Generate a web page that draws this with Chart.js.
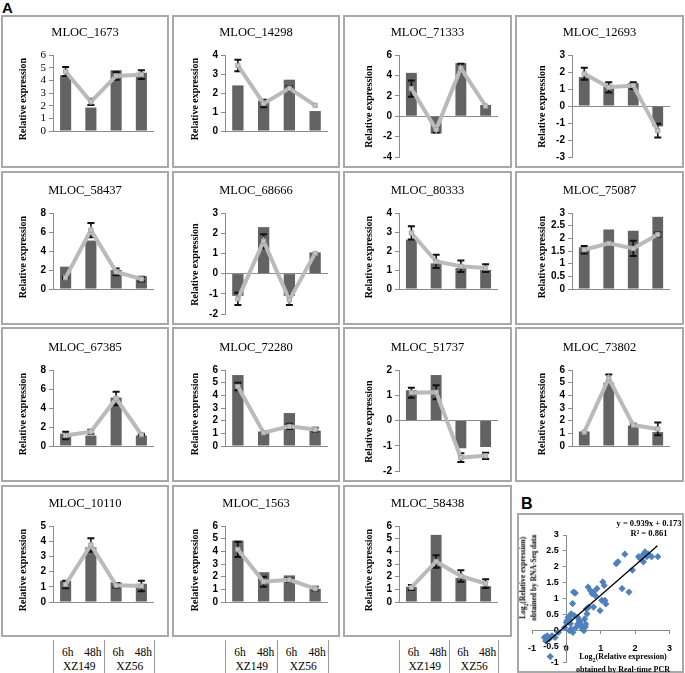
<!DOCTYPE html>
<html><head><meta charset="utf-8">
<script src="https://cdn.jsdelivr.net/npm/chart.js@4.4.0/dist/chart.umd.min.js"></script>
<style>
html,body{margin:0;padding:0;background:#fff;}
body{width:685px;height:673px;position:relative;overflow:hidden;font-family:"Liberation Serif",serif;}
.panel{position:absolute;border:2px solid #a8a8a8;box-sizing:border-box;}
canvas{position:absolute;}
.t{position:absolute;white-space:nowrap;color:#000;}
.sep{position:absolute;width:1px;background:#9a9a9a;}
</style></head><body>
<script>
// ---------- data ----------
const categories = ['XZ149 6h', 'XZ149 48h', 'XZ56 6h', 'XZ56 48h'];
const timeLabels = ['6h', '48h', '6h', '48h'];
const lineLabels = ['XZ149', 'XZ56'];
const genes = ['MLOC_1673','MLOC_14298','MLOC_71333','MLOC_12693','MLOC_58437','MLOC_68666','MLOC_80333','MLOC_75087','MLOC_67385','MLOC_72280','MLOC_51737','MLOC_73802','MLOC_10110','MLOC_1563','MLOC_58438'];
const yTitle = 'Relative expression';

// bar = RNA-Seq, line = real-time PCR, err = PCR error; axis = [min, max, step]
const bar_1673 = [4.4, 1.85, 4.8, 4.6],   line_1673 = [4.7, 2.3, 4.35, 4.45],  err_1673 = [0.35, 0.25, 0.3, 0.35],  axis_1673 = [0, 6, 1];
const bar_14298 = [2.4, 1.6, 2.7, 1.05],  line_14298 = [3.45, 1.45, 2.25, 1.35], err_14298 = [0.3, 0.2, 0.1, 0],   axis_14298 = [0, 4, 1];
const bar_71333 = [4.25, -1.7, 5.2, 1.1], line_71333 = [2.7, -1.3, 4.7, 1.0],  err_71333 = [0.8, 0.3, 0.45, 0],   axis_71333 = [-4, 6, 2];
const bar_12693 = [1.7, 1.25, 1.35, -1.2], line_12693 = [1.9, 1.1, 1.2, -1.45], err_12693 = [0.35, 0.3, 0.2, 0.4], axis_12693 = [-3, 3, 1];
const bar_58437 = [2.35, 5.1, 2.0, 1.35], line_58437 = [1.2, 6.2, 1.8, 1.05],  err_58437 = [0.1, 0.75, 0.35, 0.25], axis_58437 = [0, 8, 2];
const bar_68666 = [-1.1, 2.3, -1.1, 1.05], line_68666 = [-1.25, 1.6, -1.3, 1.0], err_68666 = [0.3, 0.35, 0.25, 0], axis_68666 = [-2, 3, 1];
const bar_80333 = [2.6, 1.35, 1.1, 1.0],  line_80333 = [2.95, 1.45, 1.2, 1.1],  err_80333 = [0.35, 0.35, 0.3, 0.2], axis_80333 = [0, 4, 1];
const bar_75087 = [1.65, 2.35, 2.3, 2.85], line_75087 = [1.55, 1.8, 1.6, 2.15], err_75087 = [0.15, 0, 0.3, 0.08], axis_75087 = [0, 3, 0.5];
const bar_67385 = [1.3, 1.1, 5.1, 1.1],   line_67385 = [1.1, 1.5, 5.0, 1.2],   err_67385 = [0.4, 0.2, 0.7, 0.1],  axis_67385 = [0, 8, 2];
const bar_72280 = [5.6, 1.15, 2.6, 1.2],  line_72280 = [4.7, 1.05, 1.55, 1.3],  err_72280 = [0.3, 0, 0.2, 0.15],   axis_72280 = [0, 6, 1];
const bar_51737 = [1.2, 1.8, -1.1, -1.05], line_51737 = [1.1, 1.12, -1.47, -1.4], err_51737 = [0.2, 0.28, 0.17, 0.12], axis_51737 = [-2, 2, 1];
const bar_73802 = [1.15, 5.0, 1.6, 1.1],  line_73802 = [1.1, 5.35, 1.65, 1.35], err_73802 = [0, 0.3, 0.1, 0.5],   axis_73802 = [0, 6, 1];
const bar_10110 = [1.4, 3.6, 1.3, 1.2],   line_10110 = [1.15, 3.75, 1.1, 1.05], err_10110 = [0.25, 0.45, 0.15, 0.35], axis_10110 = [0, 5, 1];
const bar_1563 = [4.85, 2.35, 2.1, 1.05], line_1563 = [4.15, 1.6, 1.75, 1.05],  err_1563 = [0.6, 0.4, 0.15, 0.15],  axis_1563 = [0, 6, 1];
const bar_58438 = [1.2, 5.3, 1.9, 1.25],  line_58438 = [1.15, 3.2, 2.05, 1.45], err_58438 = [0.2, 0.5, 0.45, 0.35], axis_58438 = [0, 6, 1];

// panel B scatter
const pcrX = [-0.64,-0.56,-0.5,-0.42,-0.6,-0.33,-0.47,-0.23,-0.05,0,0.05,0.09,0.14,0.18,0.26,0.21,0.23,0.33,0.37,0.33,0.42,0.47,0.14,0.09,0.19,0.28,0.51,0.56,0.53,0.6,0.58,0.65,0.63,0.7,0.75,0.79,0.84,0.89,0.79,0.98,1.03,1.12,1.15,1.06,1.1,1.45,1.5,1.7,1.62,1.82,1.92,2.1,2.15,2.24,2.29,2.34,2.24,2.38,2.48,2.66,2.29,0.02,0.12,0.4,0.55];
const seqY = [-0.21,-0.16,-0.26,-0.16,-0.32,-0.21,-0.81,-0.05,0.1,0.26,0.42,0.37,0.53,0.85,1.18,1.21,0.47,0.42,0.32,0.21,0.16,0.05,0.05,0.0,-0.05,0.1,0.0,0.21,0.37,0.53,0.68,0.74,1.37,1.26,1.16,1.21,1.1,1.32,0.74,0.63,0.95,0.95,0.84,1.53,1.42,2.1,2.16,2.4,1.32,1.21,1.9,2.32,2.26,2.4,2.47,2.32,2.16,2.4,2.32,2.32,2.37,0.32,0.22,0.28,0.12];
const trendX = [-0.6, 2.65];
const trendY = [-0.39, 2.66];
const equationText = 'y = 0.939x + 0.173';
const r2Text = 'R² = 0.861';

const panels = genes.map(g => {
  const k = g.split('_')[1];
  return {gene: g, bar: eval('bar_' + k), line: eval('line_' + k), err: eval('err_' + k), axis: eval('axis_' + k)};
});

// ---------- layout ----------
const COL_L = [1, 172, 343, 515], COL_W = [168, 168, 169, 169];
const ROW_T = [15, 171, 327, 485], ROW_H = [153, 154, 155, 152];
const AXIS_X = [53, 225, 399, 572], PLOT_R = [154, 328, 498, 670];
const PLOT_T = [55, 213, 370, 526];
const YW = 28;
const GRAY = '#8c8c8c';
const fmt = v => String(+(+v).toFixed(2));

const errPlugin = {
  id: 'errbars',
  afterDatasetDraw(chart, args, opts) {
    if (!opts.err || args.index !== 1) return;
    const meta = chart.getDatasetMeta(0), ys = chart.scales.y, ctx = chart.ctx;
    const vals = chart.data.datasets[0].data;
    ctx.save(); ctx.strokeStyle = '#111';
    meta.data.forEach((pt, i) => {
      const e = opts.err[i]; if (!e) return;
      const y1 = ys.getPixelForValue(vals[i] + e), y2 = ys.getPixelForValue(vals[i] - e), x = pt.x;
      ctx.lineWidth = 1.6; ctx.beginPath(); ctx.moveTo(x, y1); ctx.lineTo(x, y2); ctx.stroke();
      ctx.lineWidth = 2; ctx.beginPath();
      ctx.moveTo(x - 3.5, y1); ctx.lineTo(x + 3.5, y1); ctx.moveTo(x - 3.5, y2); ctx.lineTo(x + 3.5, y2); ctx.stroke();
    });
    ctx.restore();
  }
};
const textPlugin = {
  id: 'paneltext',
  afterDraw(chart, args, o) {
    if (!o.title) return;
    const ctx = chart.ctx; ctx.save(); ctx.fillStyle = '#000';
    ctx.textAlign = 'center'; ctx.textBaseline = 'middle';
    ctx.font = '12.5px "Liberation Serif"';
    ctx.fillText(o.title, o.tx, o.ty);
    ctx.translate(o.yx, o.yy); ctx.rotate(-Math.PI / 2);
    ctx.font = 'bold 10px "Liberation Serif"';
    ctx.fillText(o.ytitle, 0, 0);
    ctx.restore();
  }
};
Chart.register(errPlugin, textPlugin);

function add(tag, cls, st, html) {
  const d = document.createElement(tag); if (cls) d.className = cls;
  Object.assign(d.style, st); if (html !== undefined) d.innerHTML = html;
  document.body.appendChild(d); return d;
}

panels.forEach((p, i) => {
  const r = Math.floor(i / 4), c = i % 4;
  add('div', 'panel', {left: COL_L[c] + 'px', top: ROW_T[r] + 'px', width: COL_W[c] + 'px', height: ROW_H[r] + 'px'});
  const cl = COL_L[c] + 2, ct = ROW_T[r] + 2, cw = COL_W[c] - 4, ch = ROW_H[r] - 4;
  const cv = document.createElement('canvas');
  cv.width = cw; cv.height = ch;
  Object.assign(cv.style, {left: cl + 'px', top: ct + 'px', width: cw + 'px', height: ch + 'px'});
  document.body.appendChild(cv);
  const [mn, mx, st] = p.axis;
  const plotB = mn < 0 ? PLOT_T[r] + 103 : PLOT_T[r] + 76;
  const yMid = (PLOT_T[r] + plotB) / 2 + (mn < 0 ? 0 : 6);
  const tickFont = i === 0 ? {family: 'Liberation Serif', size: 11} : {family: 'Liberation Sans', size: 10, weight: 'bold'};
  new Chart(cv, {
    type: 'bar',
    data: {labels: categories, datasets: [
      {type: 'line', data: p.line, order: 0, borderColor: '#bababa', borderWidth: 4, tension: 0,
       pointStyle: 'rect', pointRadius: 3, pointBackgroundColor: '#c4c4c4', pointBorderColor: '#a4a4a4', pointBorderWidth: 1},
      {type: 'bar', data: p.bar, order: 1, backgroundColor: '#636363', barPercentage: 0.44, categoryPercentage: 1}
    ]},
    options: {
      responsive: false, animation: false, devicePixelRatio: 1,
      layout: {padding: {left: AXIS_X[c] - cl - YW, right: cl + cw - PLOT_R[c], top: PLOT_T[r] - ct, bottom: ct + ch - plotB}},
      plugins: {legend: {display: false}, tooltip: {enabled: false},
        errbars: {err: p.err},
        paneltext: {title: p.gene, tx: cw / 2, ty: PLOT_T[r] - 22 - ct, ytitle: yTitle, yx: AXIS_X[c] - 30 - cl, yy: yMid - ct}},
      scales: {
        x: {display: false, offset: true},
        y: {min: mn, max: mx,
            ticks: {stepSize: st, font: tickFont, color: '#000', padding: 3, autoSkip: false, callback: v => fmt(v)},
            grid: {color: ctx => (ctx.tick && ctx.tick.value === 0) ? GRAY : 'rgba(0,0,0,0)', tickColor: GRAY, tickLength: 4, lineWidth: 1},
            border: {display: true, color: GRAY, width: 1},
            afterFit: s => { s.width = YW; }}
      }
    }
  });
});

// bottom category labels under the last row (cols 0..2)
[0, 1, 2].forEach(c => {
  const w = PLOT_R[c] - AXIS_X[c];
  [AXIS_X[c], AXIS_X[c] + w / 2, PLOT_R[c]].forEach(x => add('div', 'sep', {left: Math.round(x) + 'px', top: '640px', height: '33px'}));
  timeLabels.forEach((t, k) => add('div', 't', {left: (AXIS_X[c] + (k + 0.5) * w / 4 + 2 - 20) + 'px', width: '40px', textAlign: 'center', top: '646px', font: '11.5px "Liberation Serif"', lineHeight: '13px'}, t));
  lineLabels.forEach((t, k) => add('div', 't', {left: (AXIS_X[c] + (k + 0.5) * w / 2 + 1 - 25) + 'px', width: '50px', textAlign: 'center', top: '660px', font: '11.5px "Liberation Serif"', lineHeight: '13px'}, t));
});

// panel letters
add('div', 't', {left: '2px', top: '0px', font: 'bold 15px "Liberation Sans"', lineHeight: '15px'}, 'A');
add('div', 't', {left: '521px', top: '496px', font: 'bold 16px "Liberation Sans"', lineHeight: '16px'}, 'B');

// panel B
add('div', 'panel', {left: '517px', top: '513px', width: '167px', height: '160px'});
const cvB = document.createElement('canvas');
cvB.width = 162; cvB.height = 155;
Object.assign(cvB.style, {left: '519px', top: '515px', width: '162px', height: '155px'});
document.body.appendChild(cvB);
const bFont = {family: 'Liberation Sans', size: 9, weight: 'bold'};
new Chart(cvB, {
  type: 'scatter',
  data: {datasets: [
    {data: trendX.map((x, k) => ({x, y: trendY[k]})), showLine: true, borderColor: '#000', borderWidth: 1.3, pointRadius: 0, order: 0},
    {data: pcrX.map((x, k) => ({x, y: seqY[k]})), pointStyle: 'rectRot', pointRadius: 3.6, backgroundColor: '#4f81bd', borderColor: '#4f81bd', borderWidth: 0, order: 1}
  ]},
  options: {
    responsive: false, animation: false, devicePixelRatio: 1,
    layout: {padding: {left: 12, right: 8, top: 20, bottom: 7}},
    plugins: {legend: {display: false}, tooltip: {enabled: false}},
    scales: {
      x: {type: 'linear', min: -1, max: 3, position: {y: 0},
          ticks: {stepSize: 1, font: bFont, color: '#000', padding: 9, autoSkip: false, maxRotation: 0, callback: v => fmt(v)},
          grid: {drawOnChartArea: false, tickLength: 3, color: GRAY}, border: {color: GRAY}},
      y: {type: 'linear', min: -1, max: 3, position: {x: 0},
          ticks: {stepSize: 0.5, font: bFont, color: '#000', padding: 2, autoSkip: false, callback: v => fmt(v) + '   '},
          grid: {drawOnChartArea: false, tickLength: 3, color: GRAY}, border: {color: GRAY}}
    }
  }
});
add('div', 't', {left: '599px', width: '100px', textAlign: 'center', top: '519px', font: 'bold 8.5px "Liberation Serif"', lineHeight: '9.5px'}, equationText + '<br>' + r2Text);
add('div', 't', {left: '563px', width: '120px', textAlign: 'center', top: '652px', font: 'bold 8px "Liberation Serif"', lineHeight: '9px'}, 'Log<sub style="font-size:6px">2</sub>(Relative expression)<br>obtained by Real-time PCR');
add('div', 't', {left: '479px', width: '100px', textAlign: 'center', top: '568px', font: 'bold 7.5px "Liberation Serif"', lineHeight: '8.5px', transform: 'rotate(-90deg)', transformOrigin: '50% 50%'}, 'Log<sub style="font-size:5.5px">2</sub>(Relative expression)<br>obtained by RNA-Seq data');
</script>
</body></html>
